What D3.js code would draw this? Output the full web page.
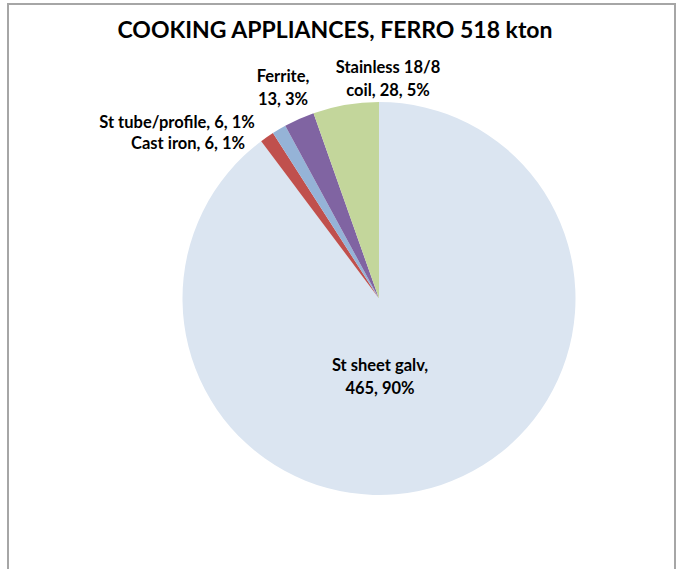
<!DOCTYPE html>
<html><head><meta charset="utf-8">
<script src="https://cdn.jsdelivr.net/npm/d3@7"></script>
<style>
html,body{margin:0;padding:0;background:#fff;}
svg{display:block;font-family:Lato,"Open Sans",sans-serif;font-weight:bold;}
</style></head>
<body>
<svg id="chart" width="680" height="569"></svg>
<script>
const title = "COOKING APPLIANCES, FERRO 518 kton";
const categories = ["St sheet galv", "Cast iron", "St tube/profile", "Ferrite", "Stainless 18/8 coil"];
const values = [465, 6, 6, 13, 28];
const percents = ["90%", "1%", "1%", "3%", "5%"];
const colors = ["#dbe5f1", "#c0504d", "#95b3d7", "#8064a2", "#c3d69b"];
// label line breaks and placement (offset from pie centre, px)
const labelLines = [
  ["St sheet galv,", "465, 90%"],
  ["Cast iron, 6, 1%"],
  ["St tube/profile, 6, 1%"],
  ["Ferrite,", "13, 3%"],
  ["Stainless 18/8", "coil, 28, 5%"]
];
const labelOffsets = [[1, 78], [-191, -155.5], [-202, -177], [-96, -211], [9, -220]];

const svg = d3.select("#chart");
const cx = 379, cy = 298.5, R = 196.5;

svg.append("rect").attr("x", 8).attr("y", 4).attr("width", 667).attr("height", 600)
  .attr("fill", "#fff").attr("stroke", "#a6a6a6").attr("stroke-width", 2);

svg.append("text").attr("x", 335).attr("y", 38).attr("text-anchor", "middle")
  .attr("font-size", 23).attr("fill", "#000").text(title);

const pie = d3.pie().sort(null).value(d => d)(values);
const arc = d3.arc().innerRadius(0).outerRadius(R);
const g = svg.append("g").attr("transform", `translate(${cx},${cy})`);
g.selectAll("path").data(pie).join("path")
  .attr("d", arc).attr("fill", (d, i) => colors[i]);

const lh = 22.5;
labelLines.forEach((lines, i) => {
  const [ox, oy] = labelOffsets[i];
  const t = g.append("text").attr("text-anchor", "middle").attr("font-size", 16.5).attr("fill", "#000");
  const n = lines.length;
  lines.forEach((s, k) => {
    t.append("tspan").attr("x", ox).attr("y", oy + (k - (n - 1) / 2) * lh + 6).text(s);
  });
});
</script>
</body></html>
